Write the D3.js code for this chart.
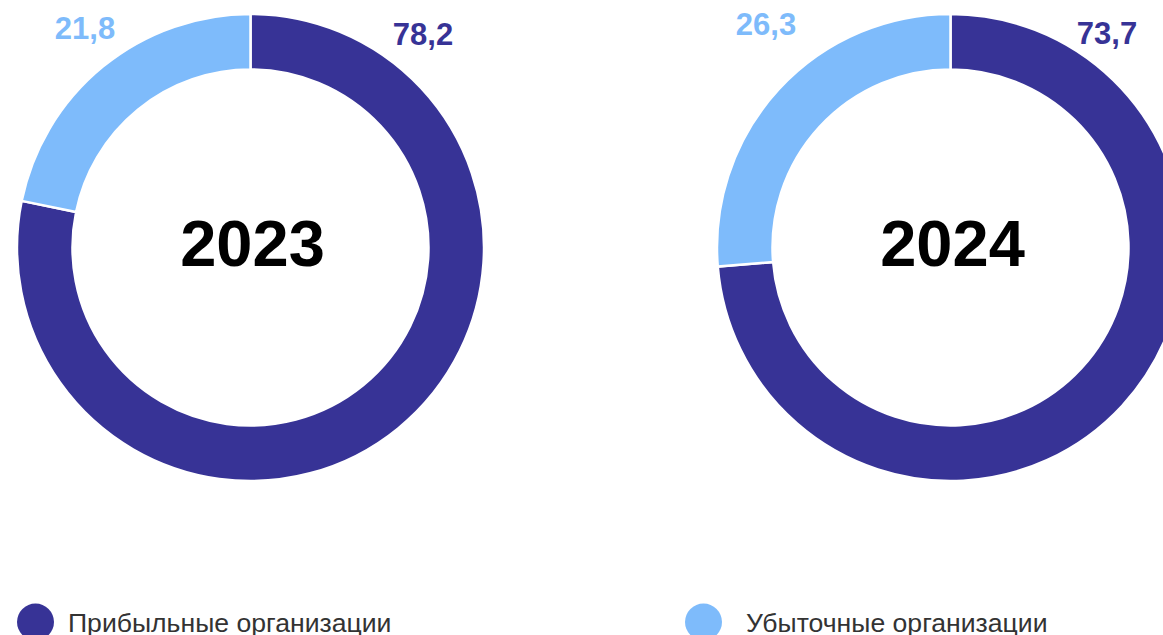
<!DOCTYPE html>
<html>
<head>
<meta charset="utf-8">
<script src="https://cdn.jsdelivr.net/npm/d3@7"></script>
<style>
  html, body { margin: 0; padding: 0; background: #fff; }
  svg { display: block; font-family: "Liberation Sans", Arial, sans-serif; }
</style>
</head>
<body>
<div id="chart"></div>
<script>
var years = ["2023", "2024"];
var categories = ["Прибыльные организации", "Убыточные организации"];
var profitable = [78.2, 73.7];
var unprofitable = [21.8, 26.3];
var colors = ["#373396", "#7EBBFB"];

function init() {
    var w = 1163;
    var h = 635;
    var outerRadius = 233.5;
    var innerRadius = 178;
    var centersX = [250.5, 950.5];
    var centerY = 247.5;

    // where each value label sits, relative to the donut centre
    var labelOffsets = [
        [[172.5, -202.5], [-165.5, -208.5]],
        [[156.5, -203.5], [-184.5, -212.5]]
    ];

    var svg = d3.select("#chart")
                  .append("svg")
                  .attr("width", w)
                  .attr("height", h);

    var arc = d3.arc()
                  .outerRadius(outerRadius)
                  .innerRadius(innerRadius);

    var pie = d3.pie().sort(null);

    var fmt = function(v) { return d3.format(".1f")(v).replace(".", ","); };

    years.forEach(function(year, k) {
        var dataset = [profitable[k], unprofitable[k]];
        var g = svg.append("g")
                   .attr("transform", "translate(" + centersX[k] + "," + centerY + ")");

        var arcs = g.selectAll("g.arc")
                    .data(pie(dataset))
                    .enter()
                    .append("g")
                    .attr("class", "arc");

        arcs.append("path")
            .attr("fill", function(d, i) { return colors[i]; })
            .attr("stroke", "#fff")
            .attr("stroke-width", 2.5)
            .attr("d", arc);

        arcs.append("text")
            .text(function(d) { return fmt(d.value); })
            .attr("x", function(d, i) { return labelOffsets[k][i][0]; })
            .attr("y", function(d, i) { return labelOffsets[k][i][1]; })
            .attr("text-anchor", "middle")
            .attr("fill", function(d, i) { return colors[i]; })
            .attr("font-size", "31px")
            .attr("font-weight", "bold");

        g.append("text")
            .text(year)
            .attr("x", 2)
            .attr("y", 18)
            .attr("text-anchor", "middle")
            .attr("font-size", "65px")
            .attr("font-weight", "bold")
            .attr("fill", "#000");
    });

    var legendX = [35.5, 703.5];
    var legendTextX = [32.5, 42.5];
    var legend = svg.selectAll("g.legend")
                    .data(categories)
                    .enter()
                    .append("g")
                    .attr("class", "legend")
                    .attr("transform", function(d, i) { return "translate(" + legendX[i] + ",622)"; });

    legend.append("circle")
          .attr("r", 18.5)
          .attr("fill", function(d, i) { return colors[i]; });

    legend.append("text")
          .text(function(d) { return d; })
          .attr("x", function(d, i) { return legendTextX[i]; })
          .attr("y", 10)
          .attr("font-size", "26.6px")
          .attr("fill", "#333");
}

window.onload = init;
</script>
</body>
</html>
